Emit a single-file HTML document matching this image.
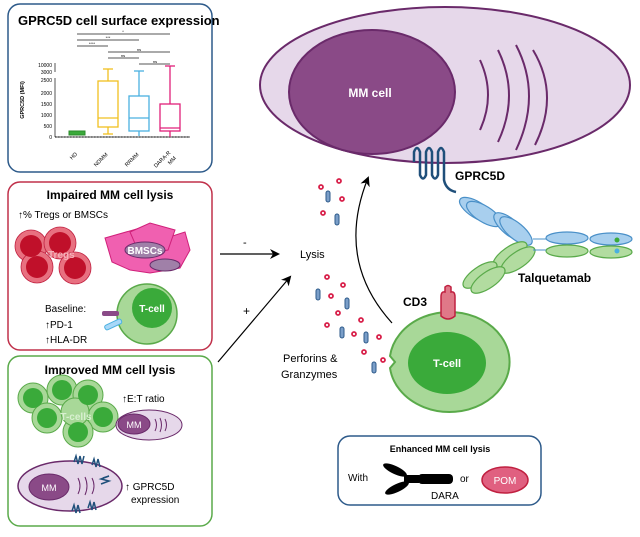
<!DOCTYPE html>
<html><head><meta charset="utf-8"><style>
html,body{margin:0;padding:0;background:#fff}
svg{display:block}
text{font-family:"Liberation Sans",sans-serif}
</style></head><body>
<svg width="640" height="537" viewBox="0 0 640 537" xmlns="http://www.w3.org/2000/svg">
<defs>
<marker id="ah" markerWidth="10" markerHeight="10" refX="8" refY="5" orient="auto" markerUnits="userSpaceOnUse">
<path d="M0,0 L10,5 L0,10 L3,5 Z" fill="#000"/></marker>
</defs>
<rect width="640" height="537" fill="#fff"/>

<!-- MM cell -->
<ellipse cx="445" cy="85" rx="185" ry="78" fill="#e6d8ea" stroke="#6a2a6a" stroke-width="2"/>
<ellipse cx="372" cy="92" rx="83" ry="62" fill="#8a4a87" stroke="#6a2a6a" stroke-width="2"/>
<text x="370" y="97" font-size="12" font-weight="bold" fill="#fff" text-anchor="middle">MM cell</text>
<g fill="none" stroke="#6a2a6a" stroke-width="2">
<path d="M480,60 Q496,95 480,130"/><path d="M498,50 Q520,95 498,142"/><path d="M516,45 Q542,95 516,150"/><path d="M533,50 Q560,95 535,145"/>
</g>

<!-- GPRC5D -->
<path d="M414,162 L414,152 Q417,144 420,152 L420,175 Q423,182 426,175 L426,152 Q429,144 432,152 L432,175 Q435,182 438,175 L438,152 Q441,144 444,152 L444,180 Q446,190 456,192" fill="none" stroke="#1f4f7a" stroke-width="2.5"/>
<text x="455" y="180" font-size="12" font-weight="bold">GPRC5D</text>

<!-- antibody -->
<g stroke="#4a90c8" stroke-width="1.2" fill="#a8cfee">
<ellipse cx="477" cy="210" rx="20" ry="8" transform="rotate(32 477 210)"/>
<ellipse cx="484" cy="214" rx="20" ry="8" transform="rotate(32 484 214)"/>
<ellipse cx="510" cy="227" rx="20" ry="8" transform="rotate(40 510 227)"/>
<ellipse cx="516" cy="231" rx="20" ry="8" transform="rotate(40 516 231)"/>
<ellipse cx="567" cy="238" rx="21" ry="6"/>
<ellipse cx="611" cy="239" rx="21" ry="6"/>
</g>
<g stroke="#5aaa4a" stroke-width="1.2" fill="#b2dca0">
<ellipse cx="567" cy="251" rx="21" ry="6"/>
<ellipse cx="611" cy="252" rx="21" ry="6"/>
<ellipse cx="510" cy="255" rx="20" ry="8" transform="rotate(-35 510 255)"/>
<ellipse cx="518" cy="260" rx="20" ry="8" transform="rotate(-35 518 260)"/>
<ellipse cx="480" cy="275" rx="20" ry="8" transform="rotate(-35 480 275)"/>
<ellipse cx="488" cy="280" rx="20" ry="8" transform="rotate(-35 488 280)"/>
</g>
<path d="M533,239 L546,239 M533,250 L546,250" stroke="#4a90c8"/>
<circle cx="617" cy="240" r="2.5" fill="#3aaa3a"/><circle cx="617" cy="251" r="2.5" fill="#4ab0e0"/>
<text x="518" y="282" font-size="12" font-weight="bold">Talquetamab</text>

<!-- T-cell big -->
<path d="M390,356 A60,50 0 1 1 390,368 L395,362 Z" fill="#a8d898" stroke="#5aaa4a" stroke-width="2"/>
<ellipse cx="447" cy="363" rx="39" ry="31" fill="#3aaa3a"/>
<text x="447" y="367" font-size="11" font-weight="bold" fill="#fff" text-anchor="middle">T-cell</text>
<path d="M441,316 L441,297 Q441,291 445,292 L445,287 Q448,284 451,287 L451,292 Q455,291 455,297 L455,316 Q448,322 441,316 Z" fill="#e07888" stroke="#c02040" stroke-width="1.5"/>
<text x="403" y="306" font-size="12" font-weight="bold">CD3</text>

<!-- arrows -->
<line x1="220" y1="254" x2="278" y2="254" stroke="#000" stroke-width="1.2" marker-end="url(#ah)"/>
<text x="243" y="246" font-size="11">-</text>
<line x1="218" y1="362" x2="290" y2="277" stroke="#000" stroke-width="1.2" marker-end="url(#ah)"/>
<text x="243" y="315" font-size="12">+</text>
<text x="300" y="258" font-size="11">Lysis</text>
<path d="M392,323 Q335,260 368,178" fill="none" stroke="#000" stroke-width="1.2" marker-end="url(#ah)"/>

<g fill="#fff" stroke="#d8204a" stroke-width="1.8">
<circle cx="321" cy="187" r="2"/><circle cx="339" cy="181" r="2"/><circle cx="342" cy="199" r="2"/><circle cx="323" cy="213" r="2"/>
<circle cx="327" cy="277" r="2"/><circle cx="343" cy="285" r="2"/><circle cx="331" cy="296" r="2"/><circle cx="338" cy="313" r="2"/>
<circle cx="327" cy="325" r="2"/><circle cx="361" cy="320" r="2"/><circle cx="354" cy="334" r="2"/><circle cx="379" cy="337" r="2"/>
<circle cx="364" cy="352" r="2"/><circle cx="383" cy="360" r="2"/>
</g>
<g fill="#7a9ec8" stroke="#2d5a8a" stroke-width="1">
<rect x="326" y="191" width="4" height="11" rx="2"/><rect x="335" y="214" width="4" height="11" rx="2"/>
<rect x="316" y="289" width="4" height="11" rx="2"/><rect x="345" y="298" width="4" height="11" rx="2"/>
<rect x="340" y="327" width="4" height="11" rx="2"/><rect x="364" y="332" width="4" height="11" rx="2"/>
<rect x="372" y="362" width="4" height="11" rx="2"/>
</g>
<text x="283" y="362" font-size="11">Perforins &amp;</text>
<text x="281" y="378" font-size="11">Granzymes</text>

<!-- Enhanced box -->
<rect x="338" y="436" width="203" height="69" rx="12" fill="#fff" stroke="#2d5a8a" stroke-width="1.5"/>
<text x="440" y="452" font-size="9" font-weight="bold" text-anchor="middle">Enhanced MM cell lysis</text>
<text x="348" y="481" font-size="10">With</text>
<g fill="#000">
<ellipse cx="395" cy="470" rx="13" ry="4" transform="rotate(25 395 470)"/>
<ellipse cx="397" cy="488" rx="13" ry="4" transform="rotate(-25 397 488)"/>
<rect x="404" y="475" width="15" height="8"/>
<rect x="418" y="474" width="35" height="10" rx="4"/>
</g>
<text x="431" y="499" font-size="10">DARA</text>
<text x="460" y="482" font-size="10">or</text>
<ellipse cx="505" cy="480" rx="23" ry="13" fill="#e06080" stroke="#c02040" stroke-width="1.5"/>
<text x="505" y="484" font-size="10" fill="#fff" text-anchor="middle">POM</text>

<!-- Box1 -->
<rect x="8" y="4" width="204" height="168" rx="12" fill="#fff" stroke="#2d5a8a" stroke-width="1.5"/>
<text x="18" y="25" font-size="13" font-weight="bold">GPRC5D cell surface expression</text>
<g stroke="#555" stroke-width="1">
<line x1="77" y1="34" x2="170" y2="34"/><line x1="77" y1="40" x2="139" y2="40"/><line x1="77" y1="46" x2="108" y2="46"/>
<line x1="108" y1="52" x2="170" y2="52"/><line x1="108" y1="58" x2="139" y2="58"/><line x1="139" y1="64" x2="170" y2="64"/>
<line x1="55" y1="63" x2="55" y2="72"/><line x1="55" y1="78" x2="55" y2="137"/><line x1="55" y1="137" x2="190" y2="137"/>
</g>
<g font-size="4" text-anchor="middle"><text x="123" y="33">*</text><text x="108" y="39">***</text><text x="92" y="45">****</text><text x="139" y="51">ns</text><text x="123" y="57">ns</text><text x="155" y="63">ns</text></g>
<line x1="55" y1="137" x2="190" y2="137" stroke="#000" stroke-dasharray="1.5,1.5"/>
<g font-size="5" text-anchor="end"><text x="52" y="67">10000</text><text x="52" y="74">3000</text><text x="52" y="82">2500</text><text x="52" y="95">2000</text><text x="52" y="106">1500</text><text x="52" y="117">1000</text><text x="52" y="128">500</text><text x="52" y="139">0</text></g>
<text x="24" y="100" font-size="5.5" font-weight="bold" transform="rotate(-90 24 100)" text-anchor="middle">GPRC5D (MFI)</text>
<rect x="69" y="131" width="16" height="4" fill="#3aaa3a" stroke="#2a8a2a"/>
<g fill="none" stroke-width="1.3">
<g stroke="#f0c020"><line x1="108" y1="69" x2="108" y2="134"/><rect x="98" y="81" width="20" height="46" fill="#fff"/><line x1="98" y1="118" x2="118" y2="118"/><line x1="103" y1="69" x2="113" y2="69"/><line x1="103" y1="134" x2="113" y2="134"/></g>
<g stroke="#4ab0e0"><line x1="139" y1="71" x2="139" y2="136"/><rect x="129" y="96" width="20" height="35" fill="#fff"/><line x1="129" y1="118" x2="149" y2="118"/><line x1="134" y1="71" x2="144" y2="71"/></g>
<g stroke="#e0207a"><line x1="170" y1="66" x2="170" y2="137"/><rect x="160" y="104" width="20" height="27" fill="#fff"/><line x1="160" y1="128" x2="180" y2="128"/><line x1="165" y1="66" x2="175" y2="66"/></g>
</g>
<g font-size="5.5"><text x="72" y="160" transform="rotate(-45 72 160)">HD</text><text x="96" y="167" transform="rotate(-45 96 167)">NDMM</text><text x="127" y="167" transform="rotate(-45 127 167)">RRMM</text><text x="156" y="168" transform="rotate(-45 156 168)">DARA-R</text><text x="170" y="165" transform="rotate(-45 170 165)">MM</text></g>

<!-- Box2 -->
<rect x="8" y="182" width="204" height="168" rx="12" fill="#fff" stroke="#c0304a" stroke-width="1.5"/>
<text x="110" y="199" font-size="12" font-weight="bold" text-anchor="middle">Impaired MM cell lysis</text>
<text x="18" y="218" font-size="10">↑% Tregs or BMSCs</text>
<g fill="#e87080" stroke="#c02040" stroke-width="0.8">
<circle cx="31" cy="246" r="16"/><circle cx="60" cy="243" r="16"/><circle cx="37" cy="267" r="16"/><circle cx="75" cy="268" r="16"/>
</g>
<g fill="#c0102a"><circle cx="31" cy="246" r="11"/><circle cx="60" cy="243" r="11"/><circle cx="37" cy="267" r="11"/><circle cx="75" cy="268" r="11"/></g>
<text x="48" y="258" font-size="10" font-weight="bold" fill="#f4b0b8">Tregs</text>
<path d="M105,238 L140,228 L160,240 L185,232 L190,250 L180,268 L150,273 L130,270 L112,262 Z" fill="#f060b0" stroke="#d0207a"/>
<path d="M130,232 L150,223 L175,230 L168,250 L140,255 Z" fill="#f060b0" stroke="#d0207a"/>
<ellipse cx="145" cy="250" rx="20" ry="8" fill="#a080a8" stroke="#6a2a6a"/>
<ellipse cx="165" cy="265" rx="15" ry="6" fill="#a080a8" stroke="#6a2a6a"/>
<text x="145" y="254" font-size="10" font-weight="bold" fill="#fff" text-anchor="middle">BMSCs</text>
<text x="45" y="312" font-size="10">Baseline:</text>
<text x="45" y="328" font-size="10">↑PD-1</text>
<text x="45" y="343" font-size="10">↑HLA-DR</text>
<circle cx="147" cy="314" r="30" fill="#a8d898" stroke="#5aaa4a" stroke-width="1.5"/>
<circle cx="152" cy="308" r="20" fill="#3aaa3a"/>
<text x="152" y="312" font-size="10" font-weight="bold" fill="#fff" text-anchor="middle">T-cell</text>
<rect x="102" y="311" width="17" height="5" rx="2" fill="#8a4a87"/>
<rect x="104" y="322" width="18" height="5" rx="2" fill="#a8d8f8" stroke="#4ab0e0" transform="rotate(-25 113 324)"/>

<!-- Box3 -->
<rect x="8" y="356" width="204" height="170" rx="12" fill="#fff" stroke="#5aaa4a" stroke-width="1.5"/>
<text x="110" y="374" font-size="12" font-weight="bold" text-anchor="middle">Improved MM cell lysis</text>
<g fill="#a8d898" stroke="#5aaa4a"><circle cx="33" cy="398" r="15"/><circle cx="62" cy="390" r="15"/><circle cx="88" cy="395" r="15"/><circle cx="47" cy="418" r="15"/><circle cx="103" cy="417" r="15"/><circle cx="78" cy="432" r="15"/><circle cx="75" cy="412" r="14"/></g>
<g fill="#3aaa3a"><circle cx="33" cy="398" r="10"/><circle cx="62" cy="390" r="10"/><circle cx="88" cy="395" r="10"/><circle cx="47" cy="418" r="10"/><circle cx="103" cy="417" r="10"/><circle cx="78" cy="432" r="10"/></g>
<text x="76" y="420" font-size="10" font-weight="bold" fill="#d8f0d0" text-anchor="middle">T-cells</text>
<text x="122" y="402" font-size="10">↑E:T ratio</text>
<ellipse cx="149" cy="425" rx="33" ry="15" fill="#e6d8ea" stroke="#6a2a6a"/>
<ellipse cx="134" cy="424" rx="16" ry="10" fill="#8a4a87" stroke="#6a2a6a"/>
<text x="134" y="428" font-size="9" fill="#fff" text-anchor="middle">MM</text>
<path d="M155,419 Q158,425 155,431 M160,418 Q163,425 160,432 M165,419 Q168,425 165,431" fill="none" stroke="#6a2a6a"/>
<ellipse cx="70" cy="486" rx="52" ry="25" fill="#e6d8ea" stroke="#6a2a6a" stroke-width="1.5"/>
<ellipse cx="49" cy="487" rx="20" ry="13" fill="#8a4a87" stroke="#6a2a6a"/>
<text x="49" y="491" font-size="9" fill="#fff" text-anchor="middle">MM</text>
<path d="M78,478 Q82,486 78,494 M85,477 Q89,486 85,495 M92,478 Q96,486 92,494" fill="none" stroke="#6a2a6a"/>
<g stroke="#1f4f7a" stroke-width="1.5" fill="none">
<path d="M74,462 l2,-6 l2,8 l2,-8 l2,8 l2,-8"/><path d="M92,465 l2,-6 l2,8 l2,-8 l2,8"/><path d="M103,478 l6,-2 l-8,3 l8,2 l-8,3"/>
<path d="M72,511 l2,-6 l2,8 l2,-8 l2,8"/><path d="M88,508 l2,-6 l2,8 l2,-8 l2,8"/>
</g>
<text x="125" y="490" font-size="10">↑ GPRC5D</text>
<text x="131" y="503" font-size="10">expression</text>
</svg>
</body></html>
